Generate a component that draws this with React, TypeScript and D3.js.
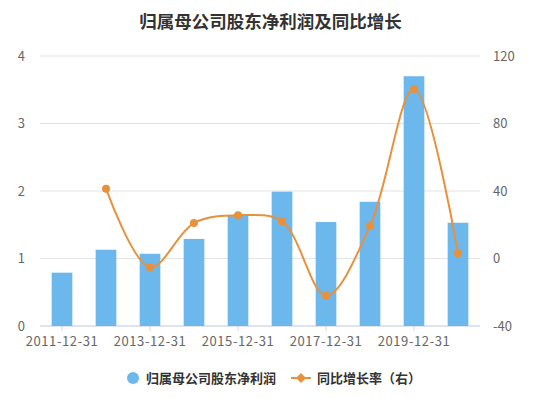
import React from "react";
import * as d3 from "d3";

const categories = [
  "2011-12-31", "2012-12-31", "2013-12-31", "2014-12-31", "2015-12-31",
  "2016-12-31", "2017-12-31", "2018-12-31", "2019-12-31", "2020-12-31",
];
const profit = [0.79, 1.13, 1.07, 1.29, 1.63, 1.99, 1.54, 1.84, 3.7, 1.53];
const growth: (number | null)[] = [null, 41.4, -5.2, 21, 25.6, 22, -22, 19.3, 100.4, 3.1];
const leftTicks = [0, 1, 2, 3, 4];
const rightTicks = [-40, 0, 40, 80, 120];

const W = 541;
const H = 398;
const left = 40;
const right = 480;
const top = 56;
const bottom = 326;
const font = "'Noto Sans CJK SC', 'Noto Sans', sans-serif";
const barColor = "#6cb7ec";
const lineColor = "#e8913d";

const App: React.FC = () => {
  const x = d3.scaleBand<string>().domain(categories).range([left, right]).paddingInner(0);
  const yL = d3.scaleLinear().domain([0, 4]).range([bottom, top]);
  const yR = d3.scaleLinear().domain([-40, 120]).range([bottom, top]);
  const bw = x.bandwidth() * 0.47;
  const cx = (c: string) => (x(c) ?? 0) + x.bandwidth() / 2;

  const pts = categories.map((c, i) => ({ c, v: growth[i] }));
  const line = d3
    .line<{ c: string; v: number | null }>()
    .defined((d) => d.v !== null)
    .x((d) => cx(d.c))
    .y((d) => yR(d.v as number))
    .curve(d3.curveCatmullRom.alpha(0.5));

  return (
    <svg
      width={W}
      height={H}
      style={{ position: "absolute", left: 0, top: 0, background: "#fff" }}
      fontFamily={font}
    >
      <text x={W / 2} y={28} textAnchor="middle" fontSize={17.5} fontWeight="bold" fill="#333">
        归属母公司股东净利润及同比增长
      </text>
      {leftTicks.map((t) => (
        <g key={t}>
          <line x1={left} x2={right} y1={yL(t)} y2={yL(t)} stroke="#e3e3e3" strokeWidth={1} />
          <text x={25} y={yL(t) + 4.5} textAnchor="end" fontSize={13} fill="#666">
            {t}
          </text>
        </g>
      ))}
      {rightTicks.map((t) => (
        <text key={t} x={493} y={yR(t) + 4.5} textAnchor="start" fontSize={13} fill="#666">
          {t}
        </text>
      ))}
      <line x1={left} x2={right} y1={bottom} y2={bottom} stroke="#ccd6eb" strokeWidth={1} />
      {categories.map((c, i) =>
        i % 2 === 0 ? (
          <g key={c}>
            <line x1={cx(c)} x2={cx(c)} y1={bottom} y2={bottom + 5} stroke="#ccd6eb" />
            <text
              x={cx(c)}
              y={bottom + 20}
              textAnchor="middle"
              fontSize={13}
              letterSpacing={0.6}
              fill="#666"
            >
              {c}
            </text>
          </g>
        ) : null
      )}
      {categories.map((c, i) => (
        <rect
          key={c}
          x={cx(c) - bw / 2}
          y={yL(profit[i])}
          width={bw}
          height={bottom - yL(profit[i])}
          fill={barColor}
        />
      ))}
      <path d={line(pts) ?? ""} fill="none" stroke={lineColor} strokeWidth={2} />
      {pts.map((p) =>
        p.v === null ? null : (
          <circle key={p.c} cx={cx(p.c)} cy={yR(p.v)} r={4} fill={lineColor} />
        )
      )}
      <g>
        <circle cx={133} cy={378} r={6} fill={barColor} />
        <text x={146} y={383} fontSize={13} fontWeight="bold" fill="#333">
          归属母公司股东净利润
        </text>
        <line x1={291} x2={311} y1={378} y2={378} stroke={lineColor} strokeWidth={2} />
        <path d="M301,373 L306,378 L301,383 L296,378 Z" fill={lineColor} />
        <text x={317} y={383} fontSize={13} fontWeight="bold" fill="#333">
          同比增长率（右）
        </text>
      </g>
    </svg>
  );
};

export default App;
